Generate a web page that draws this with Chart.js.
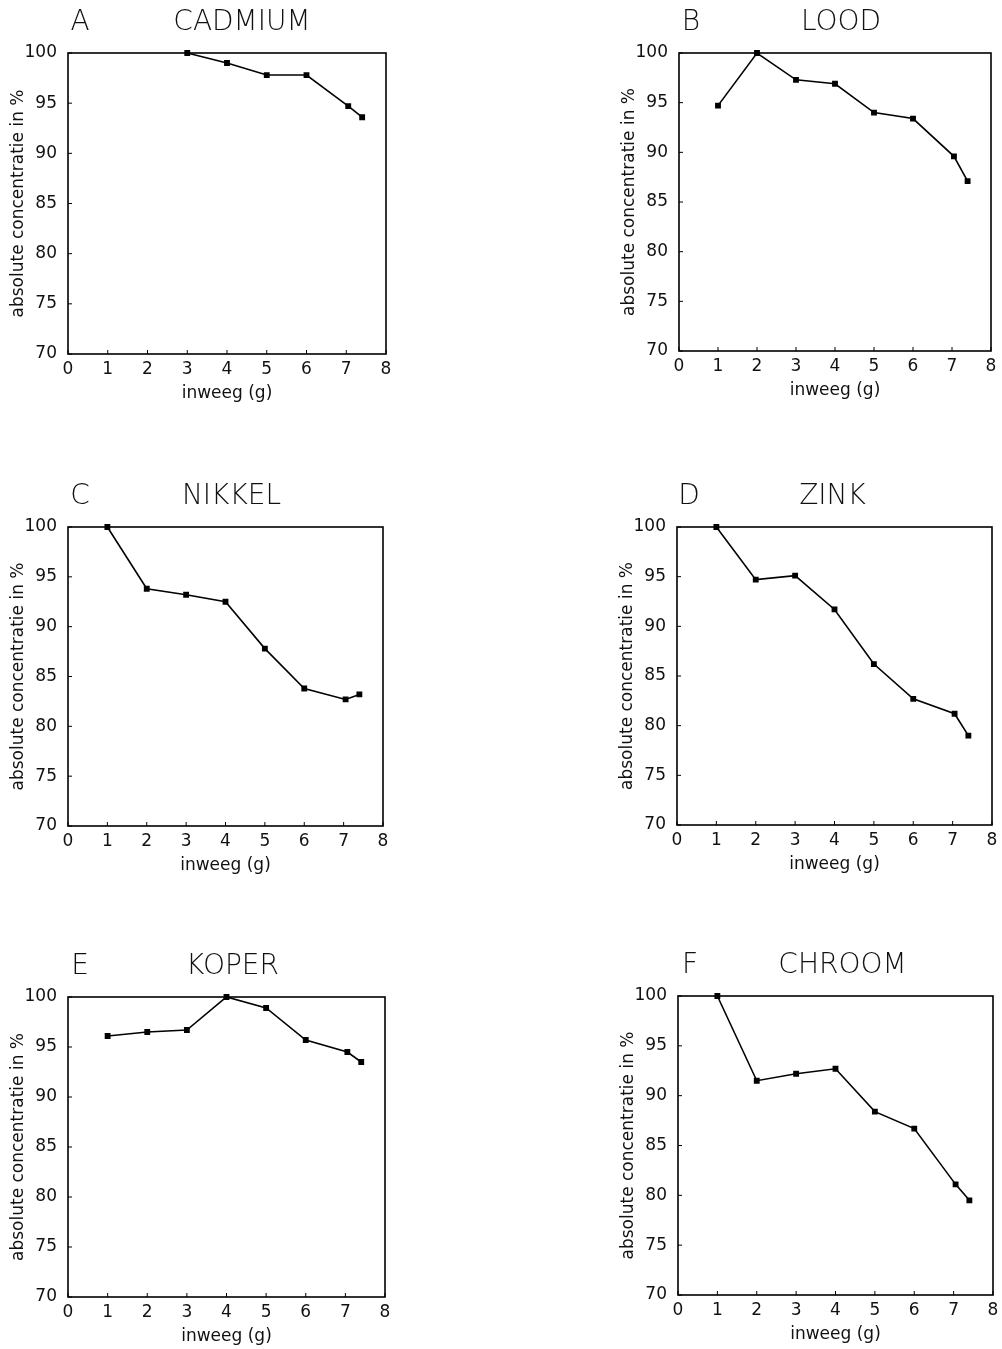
<!DOCTYPE html>
<html>
<head>
<meta charset="utf-8">
<script src="https://cdn.jsdelivr.net/npm/chart.js@4"></script>
<style>
  html, body { margin: 0; padding: 0; background: #fff; }
  body { position: relative; width: 1002px; height: 1349px; overflow: hidden; }
  .panel { position: absolute; }
</style>
</head>
<body>
<script>
// inweeg (g) for every measurement
const weights = [1, 2, 3, 4, 5, 6, 7.05, 7.4];
const cadmiumWeights = [3, 4, 5, 6, 7.05, 7.4];

// absolute concentratie in %
const cadmium = [100, 99.0, 97.8, 97.8, 94.7, 93.6];
const lood = [94.7, 100, 97.3, 96.9, 94.0, 93.4, 89.6, 87.1];
const nikkel = [100, 93.8, 93.2, 92.5, 87.8, 83.8, 82.7, 83.2];
const zink = [100, 94.7, 95.1, 91.7, 86.2, 82.7, 81.2, 79.0];
const koper = [96.1, 96.5, 96.7, 100, 98.9, 95.7, 94.5, 93.5];
const chroom = [100, 91.5, 92.2, 92.7, 88.4, 86.7, 81.1, 79.5];

const panelLetters = ["A", "B", "C", "D", "E", "F"];
const panelNames = ["CADMIUM", "LOOD", "NIKKEL", "ZINK", "KOPER", "CHROOM"];
const panelX = [cadmiumWeights, weights, weights, weights, weights, weights];
const panelY = [cadmium, lood, nikkel, zink, koper, chroom];

// plot box of each panel on the page: left, top, right, bottom
const boxes = [
  [68, 53, 386, 354],
  [679, 53, 991, 351],
  [68, 527, 383, 826],
  [677, 527, 992, 825],
  [68, 997, 385, 1297],
  [678, 996, 993, 1295],
];
// horizontal shift of the heading from the box centre
const nameShift = [15, 6, 6, -2, 6, 7];

const PAD_LEFT = 68, PAD_TOP = 53, PAD_RIGHT = 14, PAD_BOTTOM = 56;
const FONT = "'DejaVu Sans', sans-serif";

// frame, inner ticks and panel headings
const framePlugin = {
  id: "frame",
  afterDraw(chart, args, opts) {
    const { ctx, chartArea: a, scales } = chart;
    ctx.save();
    ctx.strokeStyle = "#000";
    ctx.lineWidth = 1.6;
    ctx.strokeRect(a.left, a.top, a.right - a.left, a.bottom - a.top);
    ctx.lineWidth = 1;
    ctx.beginPath();
    scales.x.ticks.forEach((t) => {
      const px = scales.x.getPixelForValue(t.value);
      ctx.moveTo(px, a.bottom);
      ctx.lineTo(px, a.bottom - 4);
    });
    scales.y.ticks.forEach((t) => {
      const py = scales.y.getPixelForValue(t.value);
      ctx.moveTo(a.left, py);
      ctx.lineTo(a.left + 4, py);
    });
    ctx.stroke();

    ctx.fillStyle = "#111";
    ctx.textBaseline = "middle";
    ctx.font = "300 28px " + FONT;
    ctx.textAlign = "center";
    ctx.fillText(opts.letter, a.left + 12, a.top - 30);
    ctx.fillText(opts.name, (a.left + a.right) / 2 + opts.shift, a.top - 30);
    ctx.restore();
  },
};

boxes.forEach((b, i) => {
  const div = document.createElement("div");
  div.className = "panel";
  const w = b[2] - b[0] + PAD_LEFT + PAD_RIGHT;
  const h = b[3] - b[1] + PAD_TOP + PAD_BOTTOM;
  div.style.left = b[0] - PAD_LEFT + "px";
  div.style.top = b[1] - PAD_TOP + "px";
  div.style.width = w + "px";
  div.style.height = h + "px";
  const canvas = document.createElement("canvas");
  div.appendChild(canvas);
  document.body.appendChild(div);

  const points = panelX[i].map((x, k) => ({ x: x, y: panelY[i][k] }));

  new Chart(canvas, {
    type: "scatter",
    data: {
      datasets: [
        {
          data: points,
          showLine: true,
          borderColor: "#000",
          backgroundColor: "#000",
          borderWidth: 1.6,
          pointStyle: "rect",
          pointRadius: 3,
          clip: false,
        },
      ],
    },
    options: {
      responsive: true,
      maintainAspectRatio: false,
      animation: false,
      layout: { padding: { top: PAD_TOP, right: PAD_RIGHT, left: 0, bottom: 0 } },
      plugins: {
        legend: { display: false },
        tooltip: { enabled: false },
        frame: { letter: panelLetters[i], name: panelNames[i], shift: nameShift[i] },
      },
      scales: {
        x: {
          type: "linear",
          min: 0,
          max: 8,
          grid: { display: false },
          border: { display: false },
          ticks: { stepSize: 1, padding: -3, color: "#111", font: { family: FONT, size: 17 } },
          title: {
            display: true,
            text: "inweeg (g)",
            color: "#111",
            font: { family: FONT, size: 17 },
            padding: { top: 0, bottom: 6 },
          },
          afterFit(scale) { scale.height = PAD_BOTTOM; },
        },
        y: {
          min: 70,
          max: 100,
          grid: { display: false },
          border: { display: false },
          ticks: { stepSize: 5, padding: 3, color: "#111", font: { family: FONT, size: 17 } },
          title: {
            display: true,
            text: "absolute concentratie in %",
            color: "#111",
            font: { family: FONT, size: 17 },
            padding: { top: 8, bottom: 0 },
          },
          afterFit(scale) { scale.width = PAD_LEFT; },
        },
      },
    },
    plugins: [framePlugin],
  });
});
</script>
</body>
</html>
